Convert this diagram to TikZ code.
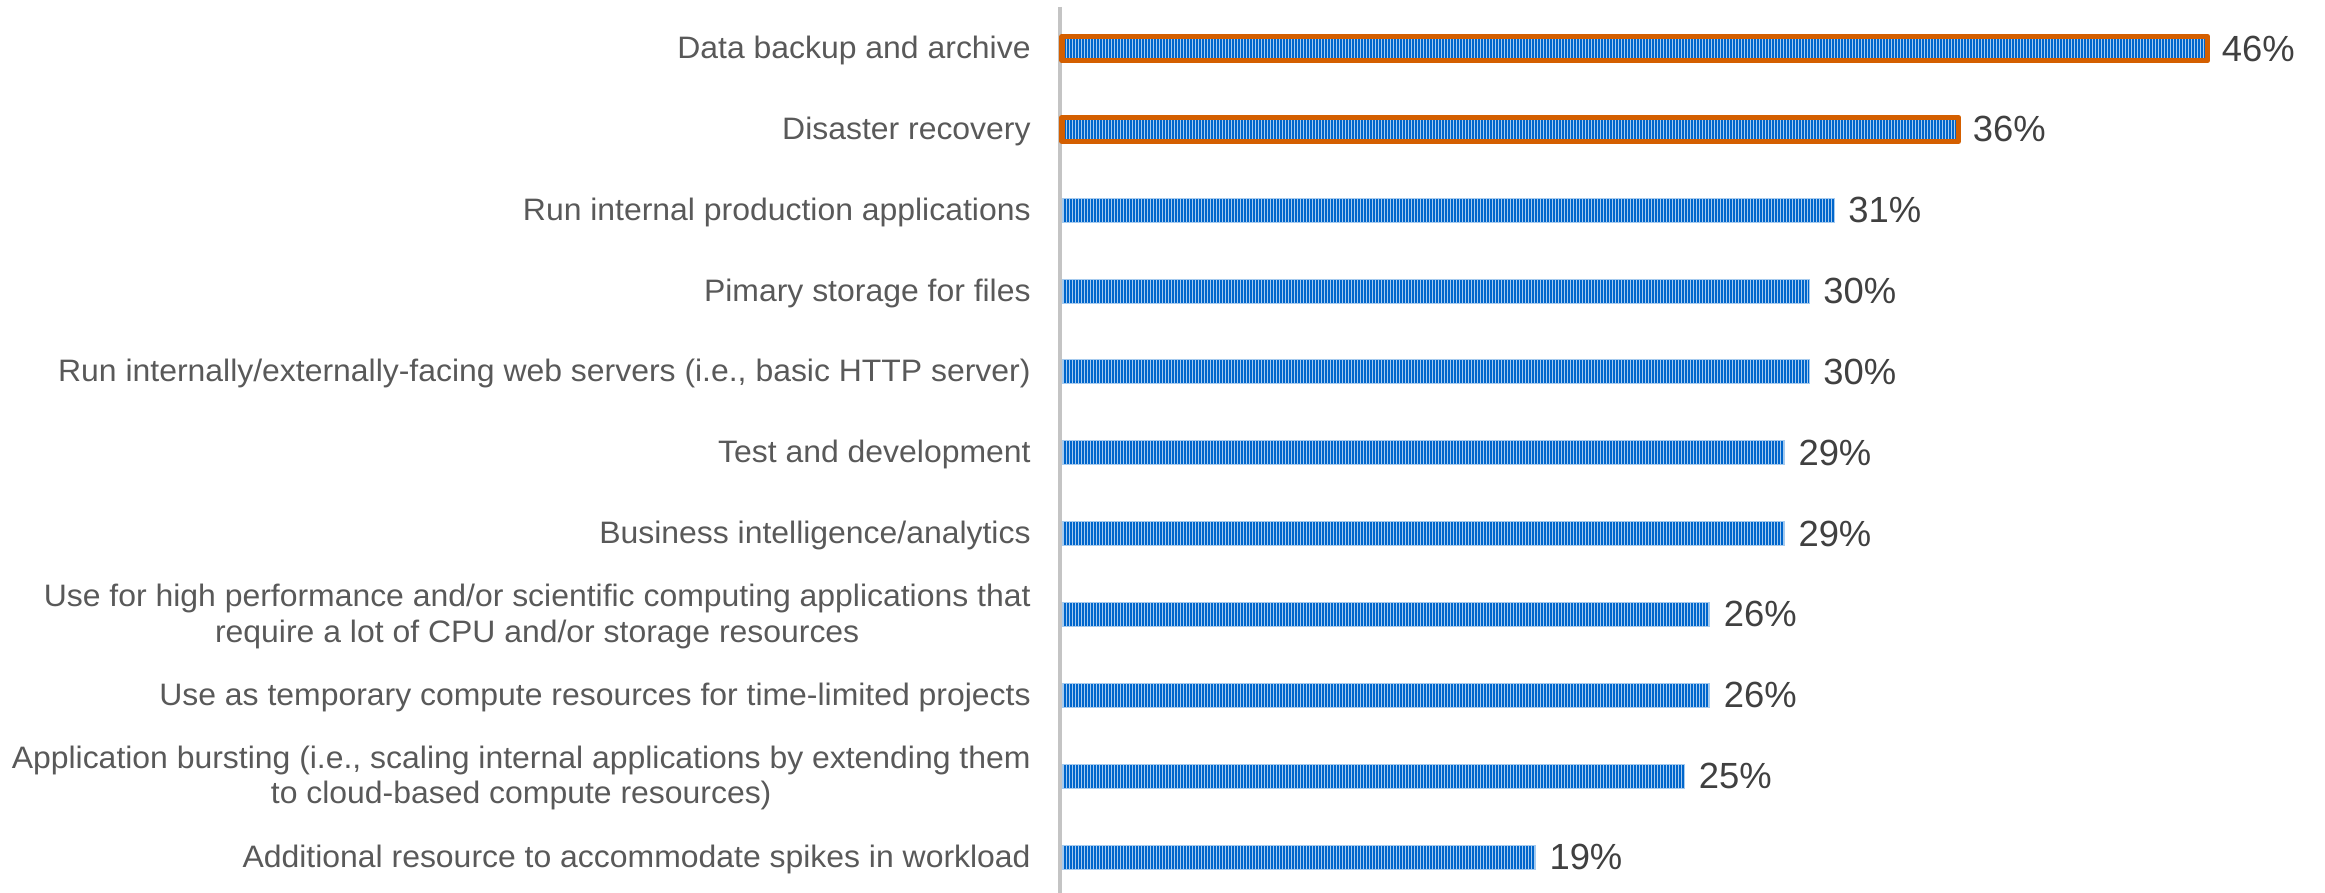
\documentclass[tikz,border=0pt]{standalone}
\usepackage{fontspec}
\setmainfont{Liberation Sans}
\newfontfamily\labfont[FakeStretch=1.03]{Liberation Sans}
\usetikzlibrary{patterns.meta}
\definecolor{barblue}{HTML}{0066CC}
\definecolor{barlight}{HTML}{A6CBEF}
\definecolor{hiorange}{HTML}{D45F00}
\definecolor{labgray}{HTML}{595959}
\definecolor{valgray}{HTML}{404040}
\definecolor{axisgray}{HTML}{C4C4C4}
\tikzset{
  barbox/.style={rectangle, inner sep=0pt, outer sep=0pt, minimum height=12pt, anchor=west,
    fill=barlight,
    postaction={pattern={Lines[angle=90,distance=1.5pt,line width=0.8pt]}, pattern color=barblue},
    postaction={draw=barlight, line width=0.4pt}},
  hibar/.style={barbox, postaction={draw=hiorange, line width=2.8pt, line join=round}},
  catlabel/.style={anchor=east, align=center, inner sep=0pt, text=labgray,
    font=\labfont\fontsize{15.5}{17.8}\selectfont},
  vallabel/.style={anchor=west, inner sep=0pt, text=valgray,
    font=\fontsize{18.2}{20}\selectfont},
  axisline/.style={draw=axisgray, line width=1.75pt}
}
\begin{document}
\begin{tikzpicture}[x=0.5pt,y=-0.5pt]
\useasboundingbox (0,0) rectangle (2325,893);
\coordinate (axtop) at (1060,7);
\coordinate (axbot) at (1060,893);
\draw[axisline] (axtop) -- (axbot);
\foreach \lab/\val [count=\i from 0] in {
  {Data backup and archive}/46,
  {Disaster recovery}/36,
  {Run internal production applications}/31,
  {Pimary storage for files}/30,
  {Run internally/externally-facing web servers (i.e., basic HTTP server)}/30,
  {Test and development}/29,
  {Business intelligence/analytics}/29,
  {Use for high performance and/or scientific computing applications that\\require a lot of CPU and/or storage resources}/26,
  {Use as temporary compute resources for time-limited projects}/26,
  {Application bursting (i.e., scaling internal applications by extending them\\to cloud-based compute resources)}/25,
  {Additional resource to accommodate spikes in workload}/19}
{
  \pgfmathsetmacro{\yy}{48.5+80.85*\i}
  \ifnum\i<2 \def\bstyle{hibar}\else\def\bstyle{barbox}\fi
  \node[catlabel] (lab\i) at (1031,\yy+2) {\lab};
  \node[\bstyle, minimum width=\val*12.45pt] (bar\i) at (1062,\yy) {};
  \node[vallabel] (val\i) at ([xshift=7pt]bar\i.east) {\val\%};
}
\end{tikzpicture}
\end{document}
